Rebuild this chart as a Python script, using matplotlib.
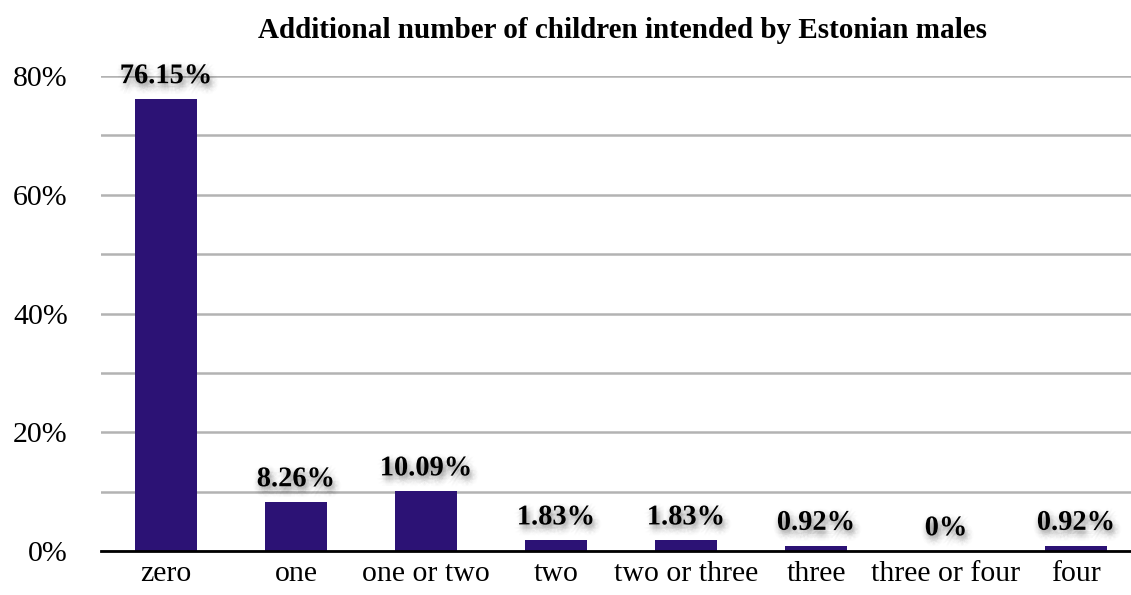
import numpy as np
import matplotlib.pyplot as plt
import matplotlib.patheffects as pe

# intended additional children, share of respondents (%)
categories = ['zero', 'one', 'one or two', 'two', 'two or three',
              'three', 'three or four', 'four']
shares = [76.15, 8.26, 10.09, 1.83, 1.83, 0.92, 0.0, 0.92]
labels = ['76.15%', '8.26%', '10.09%', '1.83%', '1.83%', '0.92%', '0%', '0.92%']
yticks = [0, 20, 40, 60, 80]

plt.rcParams['font.family'] = ['Liberation Serif', 'DejaVu Serif']

fig = plt.figure(figsize=(11.31, 5.95), dpi=100)
ax = fig.add_axes([101 / 1131, 44 / 595, 1040 / 1131, 475 / 595])

x = np.arange(len(categories))
ax.bar(x, shares, width=0.47, color='#2c1275', zorder=3)

# soft blurred drop shadow under the value labels
shadow = []
for r in [5, 4, 3, 2, 1]:
    for ang in np.linspace(0, 2 * np.pi, 10, endpoint=False):
        dx = 1.5 + r * np.cos(ang)
        dy = -3 + r * np.sin(ang)
        shadow.append(pe.SimplePatchShadow(offset=(dx, dy), shadow_rgbFace='black',
                                           alpha=0.011))
for xi, v, lab in zip(x, shares, labels):
    ax.annotate(lab, (xi, v), xytext=(0, 7), textcoords='offset points',
                ha='center', va='bottom', fontsize=20.5, fontweight='bold',
                color='black', zorder=5,
                path_effects=shadow + [pe.Normal()])

ax.set_xlim(-0.5, len(categories) - 0.5)
ax.set_ylim(0, 80)
ax.set_yticks(yticks)
ax.set_yticklabels([f'{t}%' for t in yticks])
ax.set_yticks(np.arange(0, 81, 10), minor=True)
ax.grid(axis='y', which='both', color='#b3b3b3', linewidth=1.8, zorder=0)
ax.set_xticks(x)
ax.set_xticklabels(categories)
ax.tick_params(axis='both', length=0, labelsize=21.5)
ax.tick_params(axis='x', pad=7)
ax.tick_params(axis='y', pad=24)
ax.tick_params(axis='y', which='minor', length=0)

for side in ['left', 'right', 'top']:
    ax.spines[side].set_visible(False)
ax.spines['bottom'].set_color('black')
ax.spines['bottom'].set_linewidth(2)
ax.spines['bottom'].set_zorder(4)

fig.text(622 / 1131, 1 - 30 / 595, 'Additional number of children intended by Estonian males',
         ha='center', va='center', fontsize=21, fontweight='bold')

fig.savefig('out.png', dpi=100)
